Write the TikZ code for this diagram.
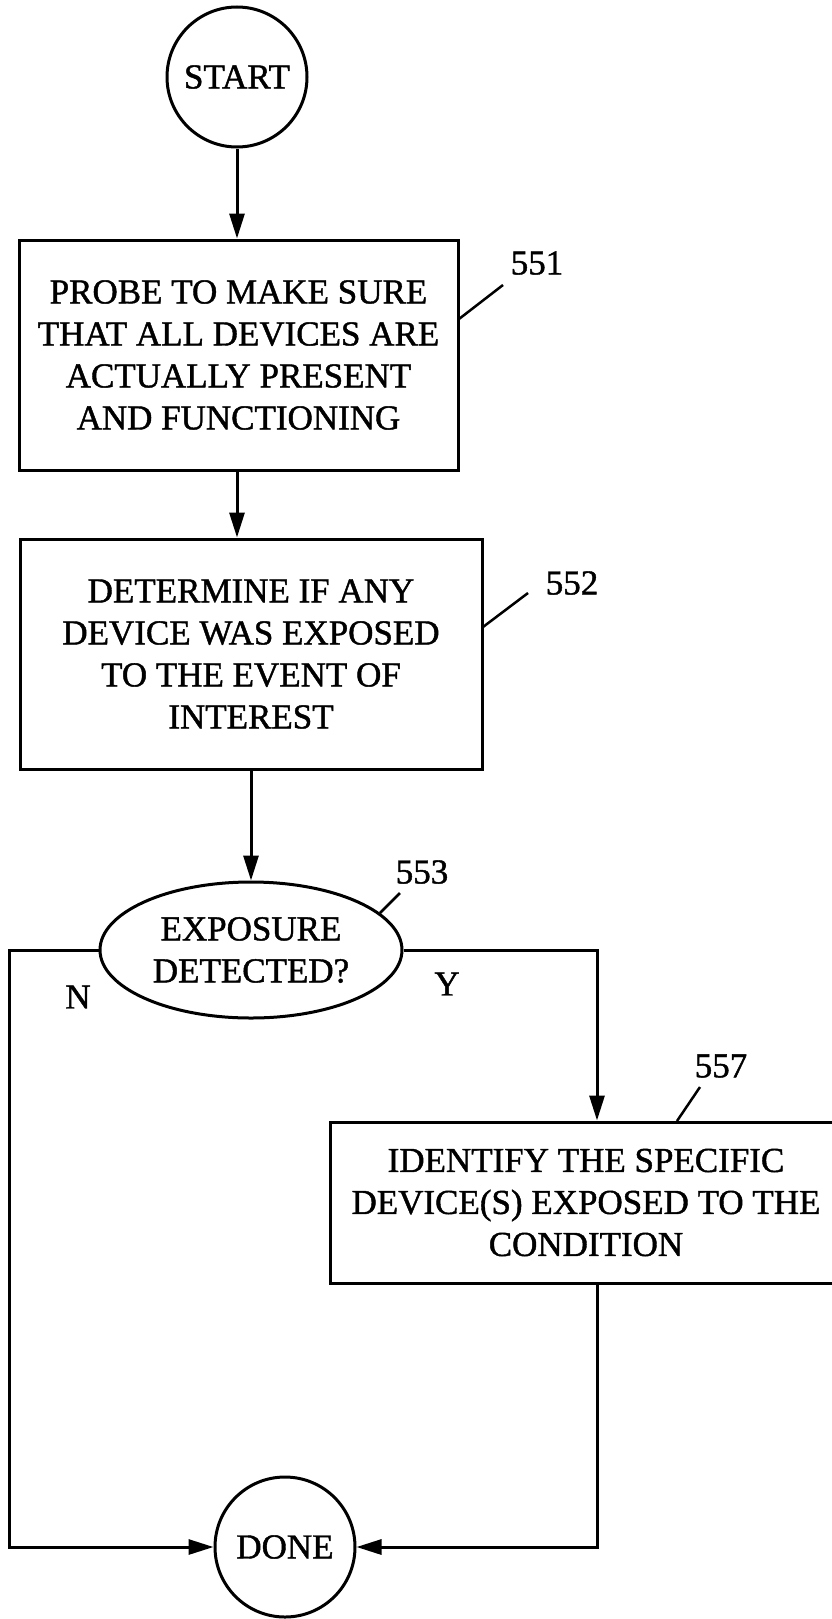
\documentclass[tikz,border=0pt]{standalone}
\usepackage{fontspec}
\setmainfont[FakeBold=1.2]{Liberation Serif}
\usetikzlibrary{arrows.meta,shapes.geometric}
\begin{document}
\begin{tikzpicture}[x=1pt,y=-1pt,
  every node/.style={font=\fontsize{35}{42}\selectfont},
  ln/.style={line width=3pt},
  arr/.style={ln,-{Triangle[length=25pt,width=15pt]}},
  lead/.style={line width=2.5pt},
  stepbox/.style={draw,ln,rectangle,align=center,inner sep=0pt},
  term/.style={draw,ln,circle,minimum size=140pt,inner sep=0pt},
  lbl/.style={inner sep=0pt}]
\useasboundingbox (0,0) rectangle (832,1619);
\node[term] (start) at (237,77) {START};
\node[stepbox,minimum width=439pt,minimum height=230pt] (b551) at (238.5,355)
  {PROBE TO MAKE SURE\\THAT ALL DEVICES ARE\\ACTUALLY PRESENT\\AND FUNCTIONING};
\node[stepbox,minimum width=462pt,minimum height=230pt] (b552) at (251,654)
  {DETERMINE IF ANY\\DEVICE WAS EXPOSED\\TO THE EVENT OF\\INTEREST};
\node[draw,ln,ellipse,minimum width=302pt,minimum height=136pt,inner sep=0pt,align=center] (e553) at (251,950)
  {EXPOSURE\\DETECTED?};
\node[stepbox,minimum width=512pt,minimum height=161pt] (b557) at (586,1202.5)
  {IDENTIFY THE SPECIFIC\\DEVICE(S) EXPOSED TO THE\\CONDITION};
\node[term] (done) at (285,1547) {DONE};
% labels
\node[lbl] (l551) at (537,263) {551};
\node[lbl] (l552) at (572,583) {552};
\node[lbl] (l553) at (422,872) {553};
\node[lbl] (l557) at (721,1066) {557};
\node[lbl] (ln) at (78,997) {N};
\node[lbl] (ly) at (447,984) {Y};
% leader lines
\coordinate (a551) at (503,285); \coordinate (c551) at (459,319);
\coordinate (a552) at (528,593); \coordinate (c552) at (483,627);
\coordinate (a553) at (400,893); \coordinate (c553) at (380,913);
\coordinate (a557) at (700,1087); \coordinate (c557) at (677,1121);
\draw[lead] (a551) -- (c551);
\draw[lead] (a552) -- (c552);
\draw[lead] (a553) -- (c553);
\draw[lead] (a557) -- (c557);
% connectors
\draw[arr] (start) -- (start |- b551.north);
\draw[arr] (start |- b551.south) -- (start |- b552.north);
\draw[arr] (b552.south) -- (e553.north);
\coordinate (nl) at (9,950);
\coordinate (yr) at (597,950);
\draw[arr] (e553.west) -- (nl) |- (done.west);
\draw[arr] (e553.east) -- (yr) -- (yr |- b557.north);
\draw[arr] (yr |- b557.south) |- (done.east);
\end{tikzpicture}
\end{document}
